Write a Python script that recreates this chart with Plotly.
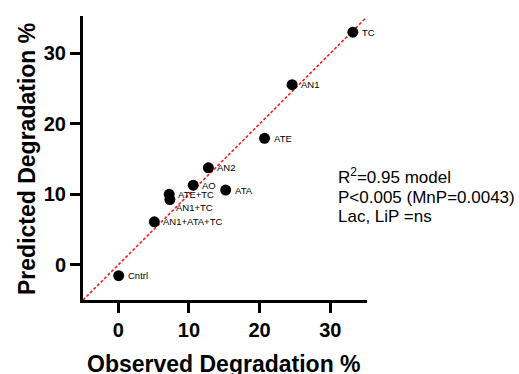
import plotly.graph_objects as go

labels = ["TC", "AN1", "ATE", "AN2", "AO", "ATA", "ATE+TC", "AN1+TC", "AN1+ATA+TC", "Cntrl"]
observed = [33.2, 24.6, 20.7, 12.75, 10.6, 15.2, 7.2, 7.3, 5.1, 0.05]
predicted = [33.0, 25.55, 17.95, 13.75, 11.3, 10.6, 10.0, 9.25, 6.1, -1.55]
label_yshift = [0, 0, 0, 0, 0, 0, 0, -8, 0, 0]
label_xshift = [7, 7, 7, 7, 7, 7, 7, 4, 7, 7]
line_x = [-5, 35]
line_y = [-5, 35]
x_ticks = [0, 10, 20, 30]
y_ticks = [0, 10, 20, 30]
stats_lines = ["R<sup>2</sup>=0.95 model", "P<0.005 (MnP=0.0043)", "Lac, LiP =ns"]
x_title = "Observed Degradation %"
y_title = "Predicted Degradation %"

FONT = "Liberation Sans, Arial, sans-serif"
W, H = 519, 374
L, R, T, B = 83, 152, 16, 74
PW, PH = W - L - R, H - T - B


def px_x(px):
    return (px - L) / PW


def px_y(py):
    return (H - B - py) / PH


fig = go.Figure()
fig.add_trace(go.Scatter(x=line_x, y=line_y, mode="lines",
                         line=dict(color="#ff1a1a", width=1.6, dash="3px,2px"),
                         showlegend=False, hoverinfo="skip", cliponaxis=False))
fig.add_trace(go.Scatter(x=observed, y=predicted, mode="markers",
                         marker=dict(color="black", size=11),
                         showlegend=False, cliponaxis=False))

for lab, xv, yv, xs, ys in zip(labels, observed, predicted, label_xshift, label_yshift):
    fig.add_annotation(x=xv, y=yv, text=lab, showarrow=False, xanchor="left",
                       yanchor="middle", xshift=xs, yshift=ys,
                       font=dict(family=FONT, size=9.5, color="black"))

stats_tops = [163, 186, 205]
for txt, top in zip(stats_lines, stats_tops):
    fig.add_annotation(x=px_x(336), y=px_y(top), xref="paper", yref="paper", text=txt,
                       showarrow=False, align="left", xanchor="left", yanchor="top",
                       font=dict(family=FONT, size=17, color="black"))

fig.add_annotation(x=px_x(224), y=px_y(363.5), xref="paper", yref="paper", text=x_title,
                   showarrow=False, xanchor="center", yanchor="middle",
                   font=dict(family=FONT, size=23, weight="bold", color="black"))
fig.add_annotation(x=px_x(27), y=px_y(159), xref="paper", yref="paper", text=y_title,
                   showarrow=False, xanchor="center", yanchor="middle", textangle=-90,
                   font=dict(family=FONT, size=23, weight="bold", color="black"))

fig.update_layout(
    width=W, height=H,
    margin=dict(l=L, r=R, t=T, b=B),
    plot_bgcolor="white", paper_bgcolor="white",
    font=dict(family=FONT, color="black"),
    xaxis=dict(range=[-5, 35.2], tickvals=x_ticks, showgrid=False, zeroline=False,
               showline=True, linewidth=3, linecolor="black", automargin=False,
               ticks="outside", ticklen=10, tickwidth=3, tickcolor="black",
               tickfont=dict(family=FONT, size=20, weight="bold")),
    yaxis=dict(range=[-5, 35.3], tickvals=y_ticks, showgrid=False, zeroline=False,
               showline=True, linewidth=3, linecolor="black", automargin=False,
               ticks="outside", ticklen=10, tickwidth=3, tickcolor="black",
               tickfont=dict(family=FONT, size=20, weight="bold")),
)
fig.write_html("out.html")
